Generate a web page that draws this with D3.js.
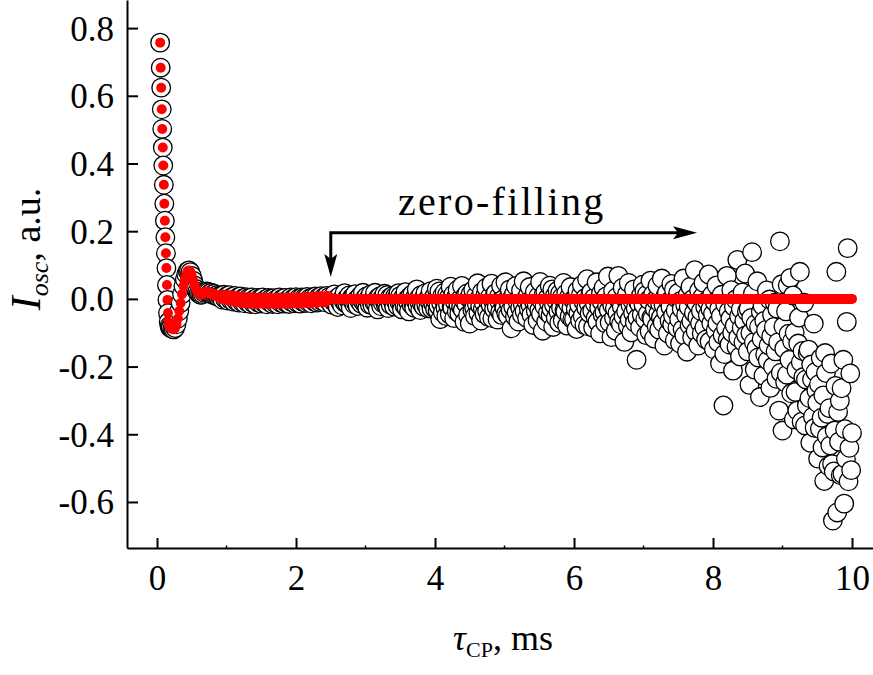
<!DOCTYPE html>
<html>
<head>
<meta charset="utf-8">
<script src="https://cdnjs.cloudflare.com/ajax/libs/d3/7.8.5/d3.min.js"></script>
<style>
body { margin: 0; background: #fff; }
text { font-family: "Liberation Serif", "Times New Roman", serif; fill: #000; }
</style>
</head>
<body>
<svg id="chart" width="873" height="675"></svg>
<script>
// initial fast decay (read point by point)
const dropT = [0.045, 0.053, 0.060, 0.068, 0.075, 0.083, 0.090, 0.098, 0.105, 0.113,
               0.120, 0.128, 0.135, 0.143, 0.150, 0.158, 0.168, 0.180, 0.190];
const dropI = [0.757, 0.683, 0.624, 0.560, 0.502, 0.447, 0.394, 0.337, 0.281, 0.231,
               0.182, 0.135, 0.091, 0.041, -0.003, -0.042, -0.068, -0.080, -0.085];

// oscillation + flat part, sampled every ropeStep ms
const ropeStart = 0.20, ropeStep = 0.02;
const ropeI = [
	-0.086, -0.089, -0.090, -0.086, -0.075, -0.058, -0.036, -0.012, 0.014, 0.038,
	0.058, 0.073, 0.082, 0.084, 0.079, 0.068, 0.054, 0.040, 0.029, 0.021,
	0.016, 0.013, 0.012, 0.014, 0.018, 0.021, 0.022, 0.020, 0.016, 0.018,
	0.012, 0.015, 0.009, 0.011, 0.006, 0.009,
	0.010, -0.002, 0.012, 0.000, 0.008, -0.005, 0.011, -0.003, 0.006, -0.008,
	0.009, -0.006, 0.004, -0.011, 0.007, -0.009, 0.002, -0.013, 0.005, -0.010,
	0.003, -0.015, 0.004, -0.012, -0.001, -0.016, 0.003, -0.011, 0.001, -0.014,
	0.004, -0.012, -0.002, -0.016, 0.003, -0.010, 0.001, -0.015, 0.002, -0.013,
	-0.001, -0.016, 0.004, -0.011, 0.000, -0.014, 0.003, -0.012, -0.003, -0.015,
	0.004, -0.010, 0.001, -0.013, 0.005, -0.011, 0.002, -0.014, 0.004, -0.009,
	0.003, -0.012, 0.006, -0.010, 0.002, -0.013, 0.005, -0.008, 0.007, -0.011,
	0.004, -0.009, 0.008, -0.007, 0.005, -0.010, 0.009, -0.004, 0.006
];

// noisy tail, sampled every tailStep ms (one row = 0.5 ms)
const tailStart = 2.50, tailStep = 0.0125;
const tailI = [
	-0.001, -0.017, 0.005, -0.008, 0.013, -0.005, -0.014, 0.002, -0.024, -0.002, 0.008, -0.011, -0.004, -0.019, 0.004, -0.007, 0.017, -0.013, 0.000, -0.015, -0.003, 0.010, -0.010, -0.027, 0.003, -0.006, 0.006, -0.016, 0.014, -0.012, -0.002, -0.021, 0.002, -0.007, 0.009, -0.014, -0.004, 0.018, -0.011, 0.000,
	-0.012, 0.007, -0.026, -0.004, 0.003, -0.017, 0.013, -0.008, -0.019, 0.000, -0.010, 0.018, -0.014, -0.001, -0.031, 0.005, -0.006, 0.008, -0.022, 0.002, -0.013, -0.002, 0.015, -0.015, -0.009, 0.011, -0.027, -0.005, 0.004, -0.018, -0.001, 0.009, -0.012, -0.023, 0.007, -0.008, 0.003, -0.021, 0.017, -0.010,
	0.009, -0.012, -0.031, 0.003, -0.004, -0.020, 0.020, -0.025, -0.001, -0.009, -0.037, 0.007, -0.002, -0.017, 0.014, -0.013, -0.026, 0.004, -0.007, 0.028, -0.021, 0.001, -0.010, -0.033, 0.011, -0.015, -0.005, -0.023, 0.006, 0.017, -0.018, -0.002, -0.028, 0.003, -0.009, 0.023, -0.029, -0.004, -0.015, 0.007,
	-0.029, -0.006, 0.030, -0.034, -0.020, 0.022, -0.060, -0.012, 0.008, -0.040, -0.004, 0.019, -0.026, -0.051, 0.013, -0.018, 0.005, -0.046, 0.036, -0.023, -0.026, 0.013, -0.057, -0.009, 0.005, -0.037, 0.027, -0.018, -0.043, -0.001, -0.023, 0.038, -0.032, -0.004, -0.068, 0.010, -0.015, 0.016, -0.048, 0.002,
	-0.073, 0.014, -0.005, -0.033, 0.026, -0.026, -0.051, 0.008, -0.014, 0.046, -0.042, 0.002, -0.020, -0.064, 0.020, -0.030, -0.011, -0.045, 0.011, 0.033, -0.036, -0.005, -0.054, 0.005, -0.017, 0.045, -0.057, -0.008, -0.030, 0.014, 0.017, -0.023, -0.061, 0.005, -0.008, -0.039, 0.039, -0.048, -0.002, -0.017,
	-0.026, 0.049, -0.043, -0.002, -0.050, -0.013, 0.028, -0.033, -0.087, 0.004, -0.023, 0.015, -0.053, 0.038, -0.040, -0.009, -0.067, 0.001, -0.026, 0.025, -0.047, -0.016, 0.052, -0.036, -0.002, -0.006, -0.057, 0.011, -0.030, 0.035, -0.019, -0.047, 0.001, -0.077, -0.009, 0.021, -0.036, -0.016, -0.064, 0.008,
	-0.033, 0.050, -0.045, -0.007, -0.094, 0.012, -0.022, 0.020, -0.067, 0.001, -0.041, -0.010, 0.039, -0.048, -0.029, 0.028, -0.083, -0.018, 0.009, -0.056, -0.007, 0.024, -0.037, -0.071, 0.016, -0.026, 0.005, -0.064, 0.047, -0.033, -0.037, 0.016, -0.079, -0.014, 0.005, -0.052, 0.035, -0.026, -0.060, -0.003,
	-0.060, -0.001, -0.030, -0.089, 0.024, -0.043, -0.018, -0.064, 0.012, 0.041, -0.051, -0.009, -0.077, 0.003, -0.026, 0.058, -0.081, -0.014, -0.043, 0.016, 0.020, -0.035, -0.085, 0.003, -0.014, -0.056, 0.049, -0.068, -0.005, -0.026, -0.102, 0.016, -0.009, -0.047, 0.033, -0.039, -0.072, 0.007, -0.022, 0.066,
	-0.033, -0.070, -0.005, -0.113, -0.019, 0.024, -0.056, -0.028, -0.094, 0.005, -0.042, 0.068, -0.066, -0.009, -0.075, -0.023, 0.033, -0.052, -0.127, 0.000, -0.037, 0.014, -0.080, 0.047, -0.061, -0.019, -0.099, -0.005, -0.042, 0.028, -0.070, -0.028, -0.180, -0.056, -0.009, -0.014, -0.084, 0.010, -0.047, 0.042,
	-0.018, 0.023, -0.060, -0.107, 0.013, -0.044, -0.003, -0.096, 0.054, -0.055, -0.060, 0.013, -0.117, -0.029, -0.003, -0.081, 0.039, -0.044, -0.091, -0.013, -0.055, 0.060, -0.070, -0.018, -0.138, 0.008, -0.039, 0.018, -0.102, -0.008, -0.065, -0.024, 0.044, -0.076, -0.050, 0.028, -0.122, -0.034, 0.002, -0.086,
	0.018, -0.060, -0.132, -0.006, -0.030, -0.090, 0.060, -0.108, -0.018, -0.048, -0.156, 0.012, -0.024, -0.078, 0.036, -0.066, -0.114, 0.000, -0.042, 0.085, -0.096, -0.012, -0.054, -0.138, 0.024, -0.072, -0.036, -0.102, 0.006, 0.048, -0.084, -0.024, -0.120, -0.006, -0.048, 0.072, -0.126, -0.030, -0.072, 0.012,
	-0.044, -0.149, -0.009, -0.093, 0.040, -0.072, -0.128, -0.030, -0.191, -0.051, 0.012, -0.107, -0.315, -0.163, -0.016, -0.086, 0.068, -0.121, -0.037, -0.135, -0.058, 0.026, -0.100, -0.212, -0.023, -0.079, -0.002, -0.142, 0.115, -0.114, -0.051, -0.170, -0.030, -0.086, 0.019, -0.128, -0.065, 0.075, -0.107, -0.037,
	-0.155, -0.029, -0.254, -0.101, -0.056, 0.138, 0.016, -0.128, -0.209, -0.074, -0.146, 0.052, -0.173, -0.083, -0.290, -0.038, -0.119, -0.020, -0.227, -0.065, -0.164, -0.092, 0.025, -0.182, -0.137, -0.002, -0.263, -0.110, -0.047, -0.200, -0.083, -0.011, -0.155, -0.236, -0.029, -0.128, -0.330, 0.170, -0.218, 0.043,
	-0.389, -0.081, -0.147, -0.246, -0.037, -0.224, 0.040, -0.103, -0.180, 0.062, -0.279, -0.125, 0.010, -0.356, -0.099, -0.275, -0.209, -0.330, -0.132, -0.055, 0.080, -0.187, -0.363, -0.154, -0.231, -0.011, -0.374, -0.238, -0.315, -0.161, -0.150, -0.293, -0.425, -0.194, -0.238, -0.348, -0.073, -0.381, -0.216, -0.271,
	-0.307, -0.472, -0.252, -0.384, -0.175, -0.351, -0.439, -0.285, -0.538, -0.160, -0.219, -0.406, -0.340, -0.494, -0.323, -0.433, -0.191, -0.488, -0.655, -0.510, -0.389, -0.257, 0.080, -0.631, -0.334, -0.422, -0.301, -0.521, -0.264, -0.517, -0.180, -0.605, -0.385, -0.473, -0.068, 0.150, -0.539, -0.440, -0.220, -0.506, -0.396
];

const zeroFillFrom = 2.5;   // everything after this is replaced by zeros
const arrowEnd = 7.77;      // where the zero-filling arrow stops (ms)

const xTicks = [0, 2, 4, 6, 8, 10];
const xMinor = [1, 3, 5, 7, 9];
const yTicks = [-0.6, -0.4, -0.2, 0.0, 0.2, 0.4, 0.6, 0.8];

function buildSeries() {
	var pts = dropT.map((t, i) => ({t: t, v: dropI[i]}));
	ropeI.forEach((v, i) => pts.push({t: ropeStart + i * ropeStep, v: v}));
	tailI.forEach((v, i) => pts.push({t: tailStart + i * tailStep, v: v}));
	return pts;
}

function main() {
	var measured = buildSeries();
	var zeroFilled = measured.map(d => ({t: d.t, v: d.t < zeroFillFrom ? d.v : 0}));

	var svg = d3.select("#chart");
	svg.append("rect").attr("width", 873).attr("height", 675).attr("fill", "#fff");

	var x = d3.scaleLinear().domain([-0.432, 10.302]).range([127, 873]);
	var y = d3.scaleLinear().domain([-0.736, 0.883]).range([548, 0]);

	// open circles: measured signal
	svg.append("g").selectAll("circle").data(measured).join("circle")
		.attr("cx", d => x(d.t)).attr("cy", d => y(d.v)).attr("r", 9.3)
		.attr("fill", "#fff").attr("stroke", "#000").attr("stroke-width", 1.3);

	// red dots: zero-filled signal
	svg.append("g").selectAll("circle").data(zeroFilled).join("circle")
		.attr("cx", d => x(d.t)).attr("cy", d => y(d.v)).attr("r", 5)
		.attr("fill", "#ff0000");

	// axes
	var xAxis = d3.axisBottom(x).tickValues(xTicks).tickSizeInner(-10).tickSizeOuter(0)
		.tickPadding(17).tickFormat(d3.format("d"));
	var gx = svg.append("g").attr("transform", "translate(0,548)").call(xAxis);
	svg.append("g").selectAll("line").data(xMinor).join("line")
		.attr("x1", d => x(d)).attr("x2", d => x(d)).attr("y1", 548).attr("y2", 545.5)
		.attr("stroke", "#000").attr("stroke-width", 1.5);

	var yAxis = d3.axisLeft(y).tickValues(yTicks).tickSizeInner(-11).tickSizeOuter(0)
		.tickPadding(13).tickFormat(d => d.toFixed(1));
	var gy = svg.append("g").attr("transform", "translate(127,0)").call(yAxis);

	[gx, gy].forEach(function (g) {
		g.attr("font-family", null);
		g.select(".domain").attr("stroke-width", 2);
		g.selectAll(".tick line").attr("stroke-width", 2);
		g.selectAll(".tick text").attr("font-size", 35);
	});
	gy.selectAll(".tick text").attr("dy", "0.34em");

	// axis titles
	var xt = svg.append("text").attr("x", 503).attr("y", 650)
		.attr("text-anchor", "middle").attr("font-size", 36);
	xt.append("tspan").attr("font-style", "italic").text("τ");
	xt.append("tspan").attr("font-size", 22).attr("dy", 7).text("CP");
	xt.append("tspan").attr("dy", -7).text(", ms");

	var yt = svg.append("text").attr("transform", "translate(40,249) rotate(-90)")
		.attr("text-anchor", "middle").attr("font-size", 38);
	yt.append("tspan").attr("font-style", "italic").attr("font-size", 42).text("I");
	yt.append("tspan").attr("font-style", "italic").attr("font-size", 26).attr("dy", 8).text("osc");
	yt.append("tspan").attr("dy", -8).text(", a.u.");

	// zero-filling annotation
	var ax0 = x(zeroFillFrom), ax1 = x(arrowEnd), ay = y(0.195), aTip = y(0.065);
	svg.append("path")
		.attr("d", "M" + ax0 + "," + (aTip - 14) + "V" + ay + "H" + (ax1 - 14))
		.attr("fill", "none").attr("stroke", "#000").attr("stroke-width", 3);
	svg.append("path")
		.attr("d", "M" + ax0 + "," + aTip + "l-6.5,-23l6.5,5l6.5,-5z")
		.attr("fill", "#000");
	svg.append("path")
		.attr("d", "M" + ax1 + "," + ay + "l-24,-6.5l5,6.5l-5,6.5z")
		.attr("fill", "#000");
	svg.append("text").attr("x", x(4.96)).attr("y", y(0.248))
		.attr("text-anchor", "middle").attr("font-size", 40)
		.attr("letter-spacing", 2.3).text("zero-filling");
}

main();
</script>
</body>
</html>
